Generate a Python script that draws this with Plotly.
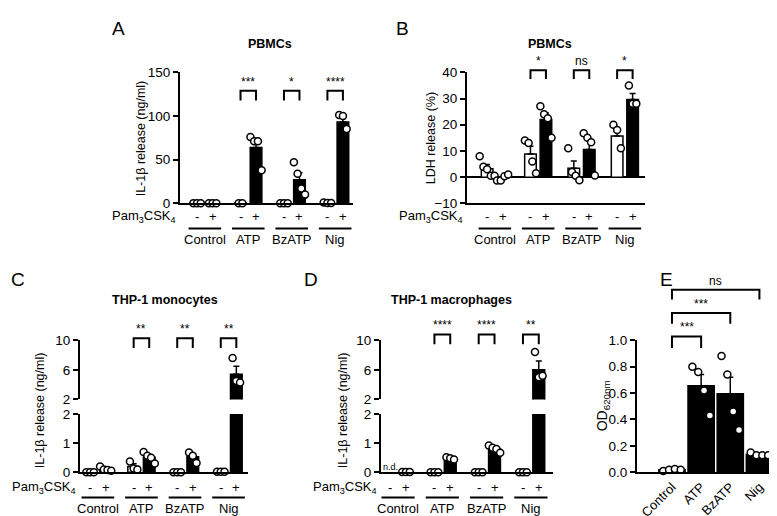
import plotly.graph_objects as go

W, H = 777, 516
FONT = "Liberation Sans, Arial, sans-serif"

groups = ["Control", "ATP", "BzATP", "Nig"]
STEP = 2.8  # distance between treatment groups, in bar units

# A: PBMCs, IL-1b release (ng/ml)
a_neg_mean = [0.3, 0.3, 0.3, 0.6]
a_neg_sem = [0.1, 0.1, 0.1, 0.2]
a_neg_pts = [[0, 0, 0], [0, 0], [0, 0, 0], [1, 0.5, 0.5]]
a_pos_mean = [0.3, 64, 27, 93]
a_pos_sem = [0.1, 8.5, 8, 4]
a_pos_pts = [[0, 0, 0], [76, 71, 71, 38], [47, 34, 17, 10], [101, 100, 85]]
a_sig = ["", "***", "*", "****"]

# B: PBMCs, LDH release (%)
b_neg_mean = [3.2, 8.8, 3.4, 15.7]
b_neg_sem = [1.6, 3.0, 2.8, 2.6]
b_neg_pts = [[8, 4, 3, 0.5, 0.5], [14, 13, 6, 1.5], [11, 2, 0.5, -1.2], [20, 18, 11]]
b_pos_mean = [-0.3, 22, 10.5, 29.6]
b_pos_sem = [0.5, 2.5, 3.8, 2.3]
b_pos_pts = [[-1.3, -1.3, 0.3, 1.0], [27, 24, 22.5, 15], [16.7, 15, 13.3, 0.6], [35, 28, 28]]
b_sig = ["", "*", "ns", "*"]

# C: THP-1 monocytes, IL-1b release (ng/ml)
c_neg_mean = [0.0, 0.2, 0.0, 0.0]
c_neg_sem = [0, 0.09, 0, 0]
c_neg_pts = [[0, 0, 0], [0.37, 0.13, 0.1], [0, 0, 0], [0.02, 0.02, 0.02]]
c_pos_mean = [0.1, 0.52, 0.53, 5.4]
c_pos_sem = [0.03, 0.09, 0.1, 1.1]
c_pos_pts = [[0.2, 0.1, 0.08, 0.05], [0.7, 0.57, 0.5, 0.3], [0.68, 0.57, 0.32], [7.6, 4.5, 4.3]]
c_sig = ["", "**", "**", "**"]

# D: THP-1 macrophages, IL-1b release (ng/ml); control without Pam3CSK4 not detected
d_neg_mean = [None, 0.0, 0.0, 0.0]
d_neg_sem = [0, 0, 0, 0]
d_neg_pts = [[], [0, 0, 0], [0, 0, 0], [0, 0, 0]]
d_pos_mean = [0.01, 0.47, 0.8, 6.0]
d_pos_sem = [0, 0.03, 0.05, 1.2]
d_pos_pts = [[0.01, 0.01, 0.01], [0.52, 0.48, 0.44], [0.92, 0.84, 0.8, 0.67], [8.4, 5.0, 5.2]]
d_sig = ["", "****", "****", "**"]

# E: OD620nm
e_mean = [0.02, 0.655, 0.595, 0.135]
e_sem = [0.004, 0.085, 0.125, 0.005]
e_pts = [[0.01, 0.02, 0.025, 0.02], [0.8, 0.76, 0.62, 0.43], [0.88, 0.74, 0.46, 0.32], [0.15, 0.13, 0.13, 0.13]]
e_sig = [(0, 1, "***"), (0, 2, "***"), (0, 3, "ns")]


def px(x):
    return x / W


def py(y):
    return 1 - y / H


neg_x = [g * STEP for g in range(4)]
pos_x = [g * STEP + 1 for g in range(4)]

fig = go.Figure()
shapes = []
annos = []


def text(x, y, s, size=13, xref="paper", bold=False, angle=0, xanchor="center", yanchor="middle"):
    # x, y in pixels when xref is paper; x in data units otherwise
    if bold:
        s = "<b>" + s + "</b>"
    if xref == "paper":
        x = px(x)
    annos.append(dict(x=x, y=py(y), xref=xref, yref="paper", text=s, showarrow=False,
                      textangle=angle, xanchor=xanchor, yanchor=yanchor,
                      font=dict(size=size, family=FONT, color="black")))


def jitter(center, n, gap=0.24):
    return [center + (i - (n - 1) / 2) * gap for i in range(n)]


def add_bars(xa, ya, xs, means, sems, fill, width=0.75):
    fig.add_trace(go.Bar(
        x=xs, y=means, xaxis=xa, yaxis=ya, width=width, showlegend=False,
        marker=dict(color=fill, line=dict(color="black", width=1.5)),
        error_y=dict(type="data", array=sems, arrayminus=[0] * len(sems), symmetric=False,
                     color="black", thickness=1.5, width=3)))


def add_points(xa, ya, xs, pts, keep=lambda v: True, gap=0.24):
    X, Y = [], []
    for c, vals in zip(xs, pts):
        for xx, v in zip(jitter(c, len(vals), gap), vals):
            if keep(v):
                X.append(xx)
                Y.append(v)
    fig.add_trace(go.Scatter(
        x=X, y=Y, xaxis=xa, yaxis=ya, mode="markers", cliponaxis=False, showlegend=False,
        marker=dict(size=7, color="white", line=dict(color="black", width=1.5))))


def xaxis(x0, x1, rng, anchor, **kw):
    d = dict(domain=[px(x0), px(x1)], range=rng, anchor=anchor, showline=True, linecolor="black",
             linewidth=2, ticks="", showticklabels=False, showgrid=False, zeroline=False)
    d.update(kw)
    return d


def yaxis(y0, y1, rng, anchor, **kw):
    d = dict(domain=[py(y1), py(y0)], range=rng, anchor=anchor, showline=True, linecolor="black",
             linewidth=2, ticks="outside", ticklen=5, tickwidth=2, tickcolor="black",
             tickfont=dict(size=13.5, family=FONT, color="black"), showgrid=False, zeroline=False)
    d.update(kw)
    return d


def bracket(xref, xa, xb, top, bottom_a, bottom_b, label, gap=0):
    shapes.append(dict(type="path", xref=xref, yref="paper",
                       path=f"M{xa},{py(bottom_a)} L{xa},{py(top)} L{xb},{py(top)} L{xb},{py(bottom_b)}",
                       line=dict(color="black", width=2)))
    text((xa + xb) / 2, top - gap, label, size=12, xref=xref, yanchor="bottom")


def pam_row(xref, axis_x, y_pm, y_line, y_lab):
    text(axis_x - 2, y_pm, "Pam<sub>3</sub>CSK<sub>4</sub>", xanchor="right")
    for g in range(4):
        text(neg_x[g], y_pm, "-", xref=xref)
        text(pos_x[g], y_pm, "+", xref=xref)
        shapes.append(dict(type="line", xref=xref, yref="paper", x0=neg_x[g] - 0.55, x1=pos_x[g] + 0.55,
                           y0=py(y_line), y1=py(y_line), line=dict(color="black", width=2)))
        text((neg_x[g] + pos_x[g]) / 2, y_lab, groups[g], xref=xref)


axes = {}

# ---- Panel A ----
add_bars("x", "y", neg_x, a_neg_mean, a_neg_sem, "white")
add_bars("x", "y", pos_x, a_pos_mean, a_pos_sem, "black")
add_points("x", "y", neg_x, a_neg_pts)
add_points("x", "y", pos_x, a_pos_pts)
axes["xaxis"] = xaxis(172, 345, [-1.1, 10.05], "y")
axes["yaxis"] = yaxis(59, 194, [0, 150], "x", dtick=50)
for g in range(1, 4):
    bracket("x", neg_x[g], pos_x[g], 78, 88, 88, a_sig[g])
pam_row("x", 172, 208, 220, 231)
text(133, 127, "IL-1β release (ng/ml)", size=12.5, angle=-90)
text(262, 30, "PBMCs", size=12.5, bold=True)
text(110, 14, "A", size=19)

# ---- Panel B ----
add_bars("x2", "y2", neg_x, b_neg_mean, b_neg_sem, "white")
add_bars("x2", "y2", pos_x, b_pos_mean, b_pos_sem, "black")
add_points("x2", "y2", neg_x, b_neg_pts)
add_points("x2", "y2", pos_x, b_pos_pts)
axes["xaxis2"] = xaxis(459, 637, [-1.3, 10.2], "y2")
axes["yaxis2"] = yaxis(59, 194, [-10, 40], "x2", dtick=10, zeroline=True,
                       zerolinecolor="black", zerolinewidth=2)
for g in range(1, 4):
    bracket("x2", neg_x[g], pos_x[g], 57, 66, 66, b_sig[g])
pam_row("x2", 459, 208, 220, 231)
text(423, 127, "LDH release (%)", size=12.5, angle=-90)
text(542, 30, "PBMCs", size=12.5, bold=True)
text(395, 14, "B", size=19)


# ---- Panels C and D (broken y axis) ----
def broken_panel(xl, yl, xh, yh, x0, x1, xr, neg_m, neg_s, neg_p, pos_m, pos_s, pos_p):
    for xa, ya, keep in [(xl, yl, lambda v: v <= 2), (xh, yh, lambda v: v > 2)]:
        add_bars(xa, ya, neg_x, neg_m, neg_s, "white")
        add_bars(xa, ya, pos_x, pos_m, pos_s, "black")
        add_points(xa, ya, neg_x, neg_p, keep)
        add_points(xa, ya, pos_x, pos_p, keep)
    axes["xaxis" + xl[1:]] = xaxis(x0, x1, xr, yl)
    axes["xaxis" + xh[1:]] = xaxis(x0, x1, xr, yh, visible=False, matches=xl)
    axes["yaxis" + yl[1:]] = yaxis(411, 471, [0, 2], xl, dtick=1)
    axes["yaxis" + yh[1:]] = yaxis(335, 396, [2, 10], xh, tickvals=[2, 6, 10])


broken_panel("x3", "y3", "x4", "y4", 72, 240, [-0.65, 10.15],
             c_neg_mean, c_neg_sem, c_neg_pts, c_pos_mean, c_pos_sem, c_pos_pts)
for g in range(1, 4):
    bracket("x3", neg_x[g], pos_x[g], 333, 343, 343, c_sig[g])
pam_row("x3", 72, 487, 497, 508)
text(32, 407, "IL-1β release (ng/ml)", size=12.5, angle=-90)
text(157, 294, "THP-1 monocytes", size=12.5, bold=True)
text(10, 272, "C", size=19)

broken_panel("x5", "y5", "x6", "y6", 373, 545, [-0.58, 10.3],
             d_neg_mean, d_neg_sem, d_neg_pts, d_pos_mean, d_pos_sem, d_pos_pts)
for g in range(1, 4):
    bracket("x5", neg_x[g], pos_x[g], 329, 339, 339, d_sig[g])
pam_row("x5", 373, 487, 497, 508)
text(neg_x[0], 466, "n.d.", size=9, xref="x5")
text(335, 407, "IL-1β release (ng/ml)", size=12.5, angle=-90)
text(443, 294, "THP-1 macrophages", size=12.5, bold=True)
text(303, 272, "D", size=19)

# ---- Panel E ----
e_x = list(range(4))
add_bars("x7", "y7", e_x, e_mean, e_sem, "black", width=0.9)
add_points("x7", "y7", e_x, e_pts, gap=0.2)
axes["xaxis7"] = xaxis(629, 766, [-1.2, 3.5], "y7", showticklabels=True, tickvals=e_x,
                       ticktext=groups, tickangle=-45,
                       tickfont=dict(size=13, family=FONT, color="black"))
axes["yaxis7"] = yaxis(335, 471, [0, 1.0], "x7", dtick=0.2, tickformat=".1f")
for (i, j, lab), (top, low) in zip(e_sig, [(331, 343), (307, 318), (283, 293)]):
    bracket("x7", e_x[i], e_x[j], top, low, low, lab)
text(595, 403, "OD<sub>620nm</sub>", size=14, angle=-90)
text(658, 272, "E", size=19)

fig.update_layout(
    width=W, height=H, margin=dict(l=0, r=0, t=0, b=0),
    paper_bgcolor="white", plot_bgcolor="white", barmode="overlay",
    showlegend=False, font=dict(family=FONT, color="black"),
    shapes=shapes, annotations=annos, **axes)

fig.write_html("out.html")
